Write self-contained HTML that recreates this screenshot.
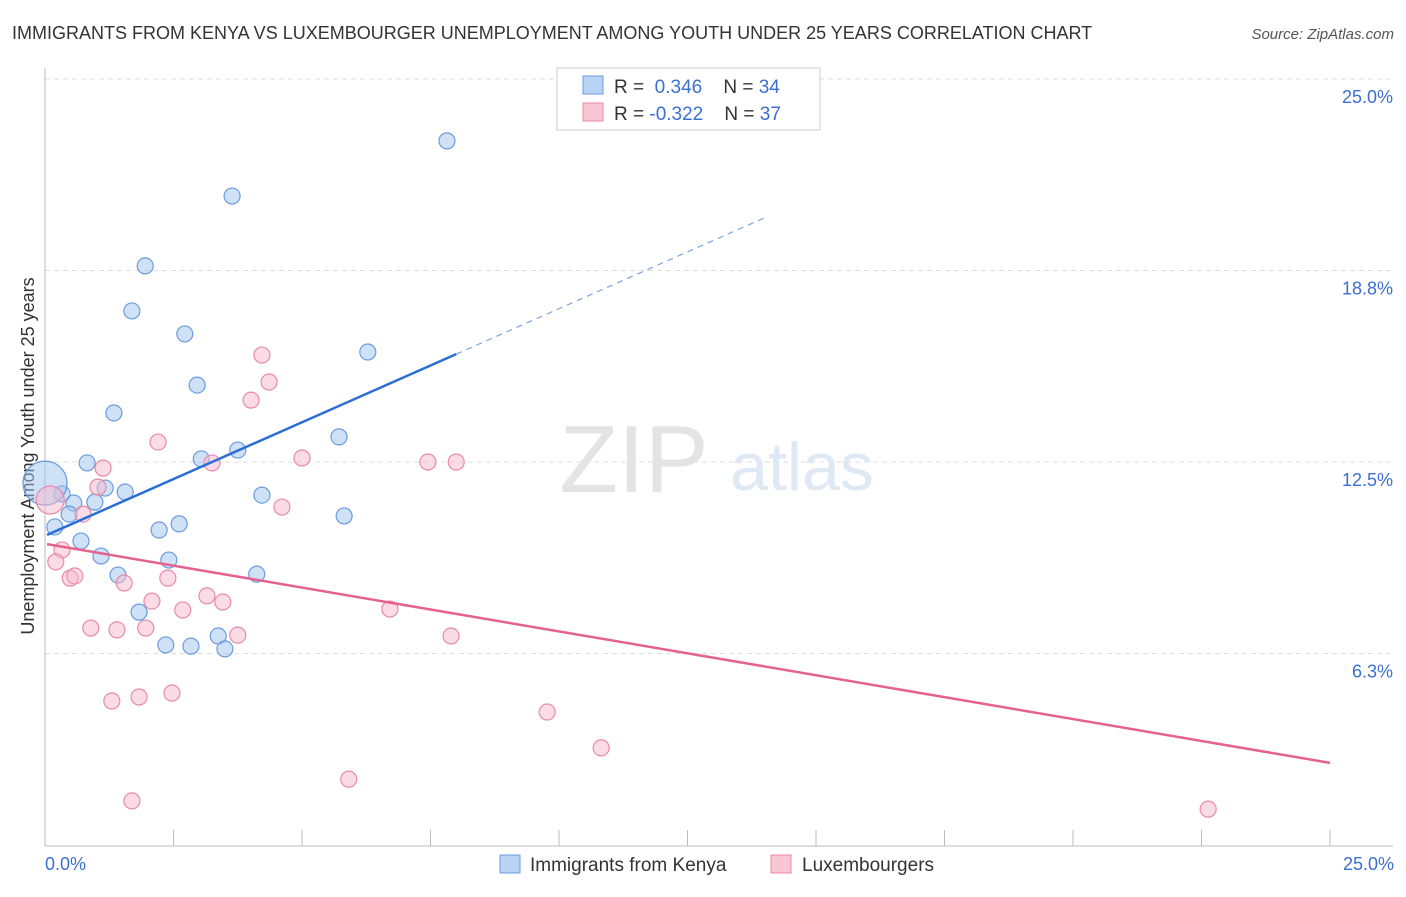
<!DOCTYPE html>
<html><head><meta charset="utf-8"><style>
body{margin:0;background:#fff;font-family:"Liberation Sans",sans-serif;}
svg text{font-family:"Liberation Sans",sans-serif;}
</style></head><body>
<svg width="1406" height="892">
<text x="12" y="39" font-size="18" fill="#333">IMMIGRANTS FROM KENYA VS LUXEMBOURGER UNEMPLOYMENT AMONG YOUTH UNDER 25 YEARS CORRELATION CHART</text>
<text x="1394" y="39" font-size="15" fill="#555" font-style="italic" text-anchor="end">Source: ZipAtlas.com</text>
<g id="grid"></g>
<text x="634" y="492" font-size="96" fill="#e4e4e4" font-family="Liberation Serif" text-anchor="middle">ZIP</text>
<text x="802" y="490" font-size="68" fill="#dfe8f5" text-anchor="middle">atlas</text>
<line x1="45" y1="68" x2="45" y2="846" stroke="#bbb"/>
<line x1="45" y1="846" x2="1393" y2="846" stroke="#bbb"/>
<g id="ticks"></g>
<text transform="translate(34,456) rotate(-90)" font-size="18" fill="#333" text-anchor="middle">Unemployment Among Youth under 25 years</text>
<text x="45" y="870" font-size="18" fill="#3b6fd1">0.0%</text>
<text x="1394" y="870" font-size="18" fill="#3b6fd1" text-anchor="end">25.0%</text>
<g id="points"></g>
<g id="lines"></g>
<g>
<rect x="557" y="68" width="263" height="62" fill="#fff" stroke="#ccc"/>
<rect x="583" y="76" width="20" height="18" fill="#b9d3f5" stroke="#6a9be0"/>
<rect x="583" y="103" width="20" height="18" fill="#f9c6d5" stroke="#e98aa8"/>
<text x="614" y="93" font-size="19" fill="#333">R = <tspan fill="#3b6fd1">&#160;0.346</tspan>&#160;&#160;&#160;&#160;N = <tspan fill="#3b6fd1">34</tspan></text>
<text x="614" y="120" font-size="19" fill="#333">R = <tspan fill="#3b6fd1">-0.322</tspan>&#160;&#160;&#160;&#160;N = <tspan fill="#3b6fd1">37</tspan></text>
</g>
<g>
<rect x="500" y="855" width="20" height="18" fill="#b9d3f5" stroke="#6a9be0"/>
<text x="530" y="871" font-size="19" fill="#333">Immigrants from Kenya</text>
<rect x="771" y="855" width="20" height="18" fill="#f9c6d5" stroke="#e98aa8"/>
<text x="802" y="871" font-size="19" fill="#333">Luxembourgers</text>
</g>
</svg>
<script>
const yTicks=[6.25,12.5,18.75,25];
const yTickLabels=["6.3%","12.5%","18.8%","25.0%"];
const xTicks=[0,2.5,5,7.5,10,12.5,15,17.5,20,22.5,25];
const kenyaX=[7.82,3.64,1.95,1.69,2.72,6.28,2.96,1.34,5.72,3.75,3.04,0.82,1.56,4.22,0.33,1.17,0.56,0.97,0.47,5.82,2.61,2.22,0.19,0.70,2.41,1.09,1.42,4.12,1.83,3.37,2.35,2.84,3.50,0.0];
const kenyaY=[22.98,21.18,18.90,17.43,16.68,16.09,15.01,14.10,13.32,12.89,12.60,12.47,11.52,11.42,11.46,11.65,11.16,11.19,10.80,10.74,10.48,10.28,10.38,9.92,9.30,9.43,8.81,8.84,7.60,6.82,6.53,6.49,6.40,11.81];
const kenyaR=[8,8,8,8,8,8,8,8,8,8,8,8,8,8,8,8,8,8,8,8,8,8,8,8,8,8,8,8,8,8,8,8,8,22];
const luxX=[4.22,4.36,4.01,2.20,1.13,3.25,5.00,7.45,8.00,1.03,0.74,4.61,0.10,0.33,0.21,0.49,0.58,2.39,1.54,2.08,3.15,3.46,2.68,6.71,0.89,1.40,1.96,3.75,7.90,1.30,1.83,2.47,9.77,10.82,5.91,1.69,22.63];
const luxY=[15.99,15.11,14.52,13.15,12.30,12.47,12.63,12.50,12.50,11.68,10.80,11.03,11.26,9.63,9.24,8.71,8.78,8.71,8.55,7.96,8.13,7.93,7.67,7.70,7.08,7.02,7.08,6.85,6.82,4.70,4.83,4.96,4.34,3.17,2.15,1.44,1.17];
const luxR=[8,8,8,8,8,8,8,8,8,8,8,8,14,8,8,8,8,8,8,8,8,8,8,8,8,8,8,8,8,8,8,8,8,8,8,8,8];
const kenyaTrend=[0.04,10.12,8.0,16.02,14.0,20.47];
const luxTrend=[0.04,9.82,25,2.68];
const X=v=>45+v*51.4, Y=v=>845-v*30.64;
const NS="http://www.w3.org/2000/svg";
function mk(t,a,p){const e=document.createElementNS(NS,t);for(const k in a)e.setAttribute(k,a[k]);p.appendChild(e);return e;}
const grid=document.getElementById('grid'),ticks=document.getElementById('ticks');
yTicks.forEach((v,i)=>{
 const l=mk('line',{x1:45,x2:1393,y1:Y(v),y2:Y(v),stroke:'#ddd','stroke-dasharray':'5,4'},grid);
 
 
 const t=mk('text',{x:1393,y:Y(v)+24,'font-size':18,fill:'#3b6fd1','text-anchor':'end'},grid);
 t.textContent=yTickLabels[i];
 
 
});
xTicks.forEach(v=>{
 const l=mk('line',{x1:X(v),x2:X(v),y1:830,y2:846,stroke:'#bbb'},ticks);
 
 
});
const pts=document.getElementById('points');
kenyaX.forEach((v,i)=>{
 const c=mk('circle',{cx:X(v),cy:Y(kenyaY[i]),r:kenyaR[i],fill:'rgba(160,195,240,0.5)',stroke:'#6a9be0','stroke-width':1.2},pts);
 
 
});
luxX.forEach((v,i)=>{
 const c=mk('circle',{cx:X(v),cy:Y(luxY[i]),r:luxR[i],fill:'rgba(248,185,205,0.5)',stroke:'#e98aa8','stroke-width':1.2},pts);
 
 
});
const lines=document.getElementById('lines');
const kt=kenyaTrend;
const b1=mk('line',{x1:X(kt[0]),y1:Y(kt[1]),x2:X(kt[2]),y2:Y(kt[3]),stroke:'#2b6fd6','stroke-width':2.5},lines);


const b2=mk('line',{x1:X(kt[2]),y1:Y(kt[3]),x2:X(kt[4]),y2:Y(kt[5]),stroke:'#7aa3e0','stroke-width':1.2,'stroke-dasharray':'6,5'},lines);


const lt=luxTrend;
const p1=mk('line',{x1:X(lt[0]),y1:Y(lt[1]),x2:X(lt[2]),y2:Y(lt[3]),stroke:'#e5628f','stroke-width':2.5},lines);


</script>
</body></html>
